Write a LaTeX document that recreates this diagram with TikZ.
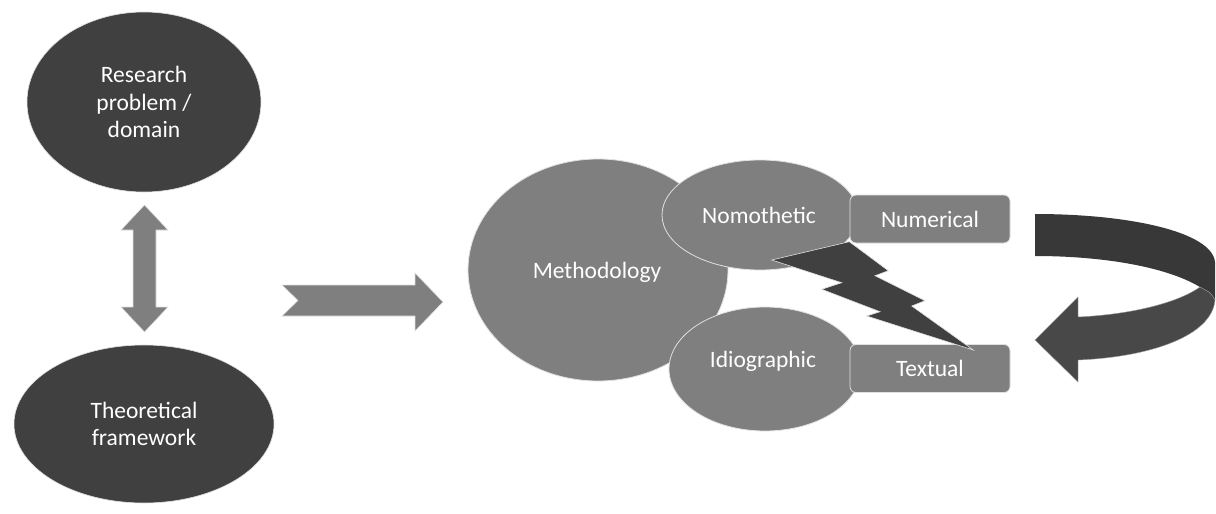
\documentclass[tikz,border=0pt]{standalone}
\usepackage{fontspec}
\setmainfont{Carlito}
\usetikzlibrary{shapes.geometric}
\definecolor{darkfill}{HTML}{404040}
\definecolor{midfill}{HTML}{7F7F7F}
\definecolor{edge}{HTML}{E0E0E0}
\definecolor{bandtop}{HTML}{383838}
\definecolor{bandlow}{HTML}{484848}
\tikzset{
  txt/.style={text=white, font=\fontsize{23.5}{27.5}\selectfont, align=center, inner sep=0pt},
  darkoval/.style={ellipse, fill=darkfill, draw=edge, line width=0.6pt, txt},
  midoval/.style={ellipse, fill=midfill, draw=edge, line width=0.8pt, txt},
  tagbox/.style={rectangle, rounded corners=6pt, fill=midfill, draw=edge, line width=0.8pt, txt,
                 minimum width=160pt, minimum height=48pt},
  blockarrow/.style={fill=midfill, draw=edge, line width=0.6pt},
}
\begin{document}
\begin{tikzpicture}[x=1pt,y=-1pt]
\useasboundingbox[fill=white] (0,0) rectangle (1216,514);

% left column
\node[darkoval, minimum width=234pt, minimum height=180pt] (problem) at (144,102)
  {Research\\problem /\\domain};
\node[darkoval, minimum width=260pt, minimum height=158pt] (theory) at (144,424)
  {Theoretical\\framework};

% two-way arrow between the two ovals
\filldraw[blockarrow] (144.5,205) -- (168,230) -- (156,230) -- (156,307) -- (168,307)
  -- (144.5,332) -- (121,307) -- (133,307) -- (133,230) -- (121,230) -- cycle;

% arrow into the methodology cluster
\filldraw[blockarrow] (282,285) -- (415,285) -- (415,273) -- (443,302) -- (415,331)
  -- (415,316) -- (282,316) -- (298,300.5) -- cycle;

% methodology cluster
\node[midoval, minimum width=260pt, minimum height=222pt] (method) at (598,270) {};
\node[txt] at (597,272) {Methodology};
\node[midoval, minimum width=196pt, minimum height=110pt] (nomo) at (760,215) {};
\node[txt] at (759,215) {Nomothetic};
\node[midoval, minimum width=192pt, minimum height=124pt] (idio) at (765,369) {};
\node[txt] at (763,361) {Idiographic};

\node[tagbox] (num) at (930,219) {Numerical};
\node[tagbox] (text) at (930,368.5) {Textual};

% lightning bolt between the two branches
\filldraw[fill=darkfill, draw=edge, line width=0.6pt]
  (849.3,241.7) -- (888.3,270.7) -- (875,275.7) -- (925,300.7) -- (911.7,306)
  -- (973.3,350) -- (866.7,316) -- (880,311.7) -- (821.7,289.3) -- (841.7,282.7)
  -- (771.7,260) -- cycle;

% curved return arrow: upper band
\fill[bandtop] (1035,214) .. controls (1130,214) and (1212,232) .. (1215,262)
  -- (1215,300) .. controls (1211,293) .. (1200,287)
  .. controls (1165,266) and (1100,256) .. (1035,256) -- cycle;
% curved return arrow: lower band with head
\filldraw[fill=bandlow, draw=edge!70!black, line width=0.4pt]
  (1215,300) .. controls (1212,336) and (1150,357) .. (1078,360)
  -- (1078,382) -- (1035,340) -- (1078,297) -- (1078,317)
  .. controls (1140,314) and (1182,300) .. (1200,287)
  .. controls (1211,293) .. (1215,300) -- cycle;
\end{tikzpicture}
\end{document}
